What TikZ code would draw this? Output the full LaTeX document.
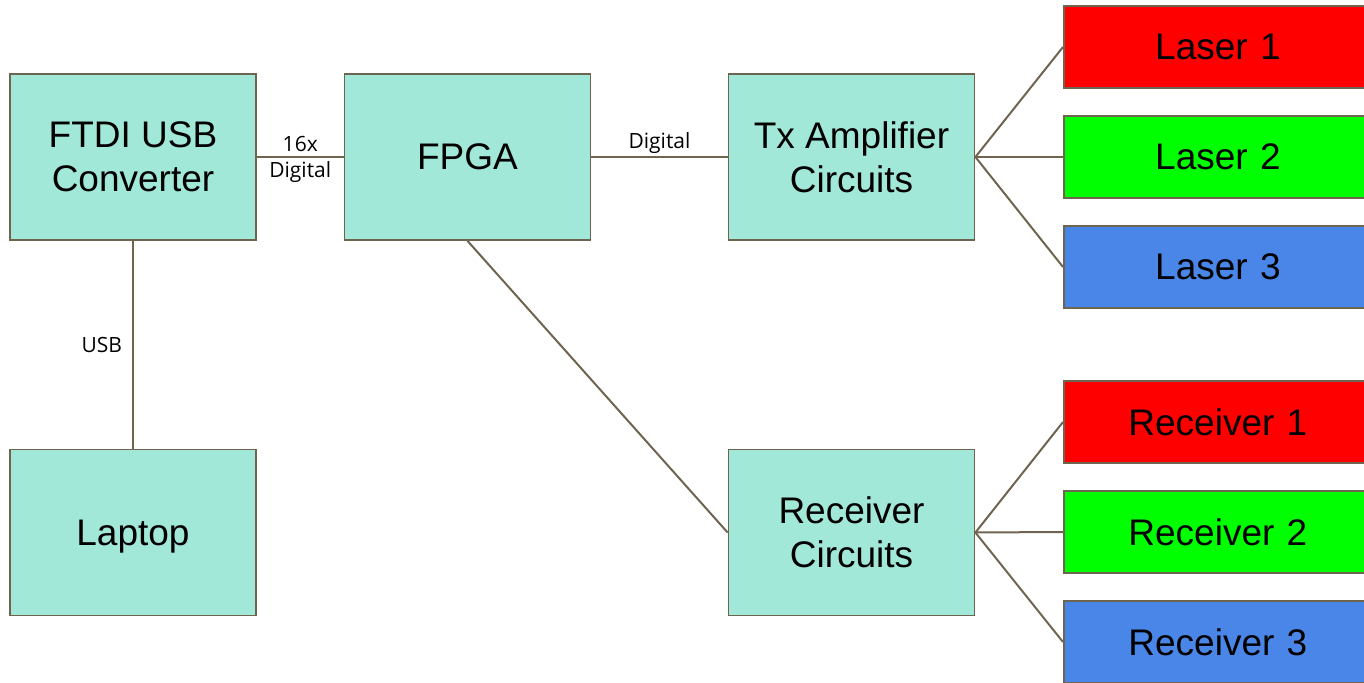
\documentclass[tikz,border=0pt]{standalone}
\usepackage{fontspec}
\setmainfont{Liberation Sans}
\newfontfamily\labelfont{Open Sans}
\usepackage{tikz}
\definecolor{boxfill}{HTML}{A2E8D8}
\definecolor{linebrown}{HTML}{6E6450}
\definecolor{laserred}{HTML}{FF0000}
\definecolor{lasergreen}{HTML}{00FF00}
\definecolor{laserblue}{HTML}{4A86E8}
\newcommand{\outtext}[1]{\makebox[154pt][c]{#1}}
\tikzset{my_diagram/.style={x=0.5pt,y=-0.5pt,line width=1pt,draw=linebrown}}
\tikzset{my_block/.style={rectangle, draw=linebrown, line width=0.9pt, fill=boxfill, minimum width=123pt, minimum height=83pt, inner sep=0pt, align=center, font=\fontsize{18.5}{22}\selectfont}}
\tikzset{my_output/.style={my_block, anchor=west, minimum width=170pt, text width=170pt, align=left, minimum height=41pt}}
\tikzset{my_label/.style={font=\labelfont\fontsize{10.5}{13}\selectfont, align=center, inner sep=1pt}}
\tikzset{my_wire/.style={draw=linebrown, line width=1pt}}

\begin{document}
\begin{tikzpicture}[my_diagram]
    \clip (0,0) rectangle (1364,683);
    %\draw[help lines] (0,0) grid (1364,683);
    \node[my_block] (ftdi) at (133,157) {FTDI USB\\Converter};
    \node[my_block, text depth=0pt] (laptop) at (133,532.5) {Laptop};
    \node[my_block] (fpga) at (467.5,157) {FPGA};
    \node[my_block] (tx) at (851.5,157) {Tx Amplifier\\Circuits};
    \node[my_block] (rx) at (851.5,532.5) {Receiver\\Circuits};

    \node[my_output, fill=laserred] (laser1) at (1063,47) {\outtext{Laser 1}};
    \node[my_output, fill=lasergreen] (laser2) at (1063,157) {\outtext{Laser 2}};
    \node[my_output, fill=laserblue] (laser3) at (1063,267) {\outtext{Laser 3}};
    \node[my_output, fill=laserred] (recv1) at (1063,422) {\outtext{Receiver 1}};
    \node[my_output, fill=lasergreen] (recv2) at (1063,532) {\outtext{Receiver 2}};
    \node[my_output, fill=laserblue] (recv3) at (1063,642) {\outtext{Receiver 3}};

    \path[my_wire]
        (ftdi) edge node [my_label, yshift=-1pt] {16x\\Digital} (fpga)
        (ftdi) edge node [my_label, left=4pt] {USB} (laptop)
        (fpga) edge node [my_label, above] {Digital} (tx)
        (fpga.south) edge (rx.west)
        (tx.east) edge (laser1.west)
        (tx.east) edge (laser2.west)
        (tx.east) edge (laser3.west)
        (rx.east) edge (recv1.west)
        (rx.east) edge (recv2.west)
        (rx.east) edge (recv3.west)
    ;
\end{tikzpicture}
\end{document}
